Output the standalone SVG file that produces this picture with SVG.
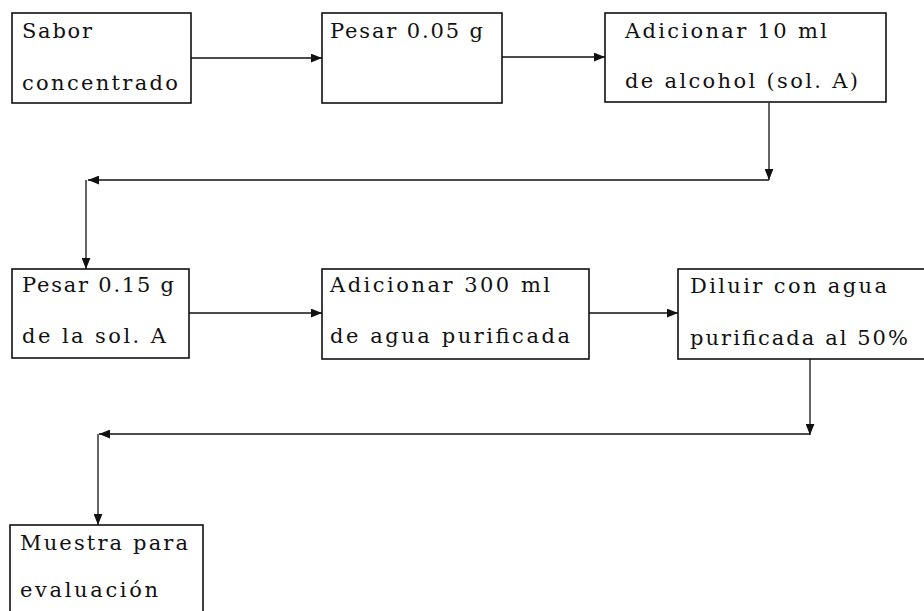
<svg xmlns="http://www.w3.org/2000/svg" width="924" height="611" viewBox="0 0 924 611">
<defs>
<style>
.box{fill:#fff;stroke:#111;stroke-width:1.6}
.lbl{font-family:"DejaVu Serif","Liberation Serif",serif;font-size:21px;fill:#111}
.con{fill:none;stroke:#111;stroke-width:1.3}
</style>
<marker id="ah" viewBox="0 0 10 8" refX="10" refY="4" markerWidth="11" markerHeight="9" markerUnits="userSpaceOnUse" orient="auto">
<path d="M0,0 L10,4 L0,8 Z" fill="#111"/>
</marker>
</defs>
<rect width="924" height="611" fill="#fff"/>
<g id="connectors">
<line class="con" x1="191" y1="58" x2="322" y2="58" marker-end="url(#ah)"/>
<line class="con" x1="502" y1="57" x2="605" y2="57" marker-end="url(#ah)"/>
<line class="con" x1="769" y1="103" x2="769" y2="180" marker-end="url(#ah)"/>
<line class="con" x1="769" y1="180" x2="88" y2="180" marker-end="url(#ah)"/>
<line class="con" x1="86" y1="180" x2="86" y2="269" marker-end="url(#ah)"/>
<line class="con" x1="189" y1="313" x2="322" y2="313" marker-end="url(#ah)"/>
<line class="con" x1="589" y1="313" x2="678" y2="313" marker-end="url(#ah)"/>
<line class="con" x1="810" y1="359" x2="810" y2="435" marker-end="url(#ah)"/>
<line class="con" x1="810" y1="434" x2="99" y2="434" marker-end="url(#ah)"/>
<line class="con" x1="98" y1="434" x2="98" y2="525" marker-end="url(#ah)"/>
</g>
<g id="n1">
<rect class="box" x="12" y="13" width="179" height="90"/>
<text class="lbl" x="22" y="38" textLength="70" lengthAdjust="spacing">Sabor</text>
<text class="lbl" x="22" y="90" textLength="156" lengthAdjust="spacing">concentrado</text>
</g>
<g id="n2">
<rect class="box" x="322" y="13" width="180" height="90"/>
<text class="lbl" x="330" y="38" textLength="153" lengthAdjust="spacing">Pesar 0.05 g</text>
</g>
<g id="n3">
<rect class="box" x="605" y="13" width="281" height="89"/>
<text class="lbl" x="625" y="38" textLength="202" lengthAdjust="spacing">Adicionar 10 ml</text>
<text class="lbl" x="625" y="88" textLength="233" lengthAdjust="spacing">de alcohol (sol. A)</text>
</g>
<g id="n4">
<rect class="box" x="12" y="269" width="177" height="89"/>
<text class="lbl" x="22" y="292" textLength="152" lengthAdjust="spacing">Pesar 0.15 g</text>
<text class="lbl" x="22" y="343" textLength="144" lengthAdjust="spacing">de la sol. A</text>
</g>
<g id="n5">
<rect class="box" x="322" y="269" width="267" height="90"/>
<text class="lbl" x="330" y="292" textLength="220" lengthAdjust="spacing">Adicionar 300 ml</text>
<text class="lbl" x="330" y="343" textLength="240" lengthAdjust="spacing">de agua purificada</text>
</g>
<g id="n6">
<rect class="box" x="678" y="269" width="247" height="90"/>
<text class="lbl" x="690" y="293" textLength="197" lengthAdjust="spacing">Diluir con agua</text>
<text class="lbl" x="690" y="345" textLength="218" lengthAdjust="spacing">purificada al 50%</text>
</g>
<g id="n7">
<rect class="box" x="10" y="525" width="193" height="95"/>
<text class="lbl" x="20" y="550" textLength="168" lengthAdjust="spacing">Muestra para</text>
<text class="lbl" x="20" y="597" textLength="138" lengthAdjust="spacing">evaluación</text>
</g>
</svg>
